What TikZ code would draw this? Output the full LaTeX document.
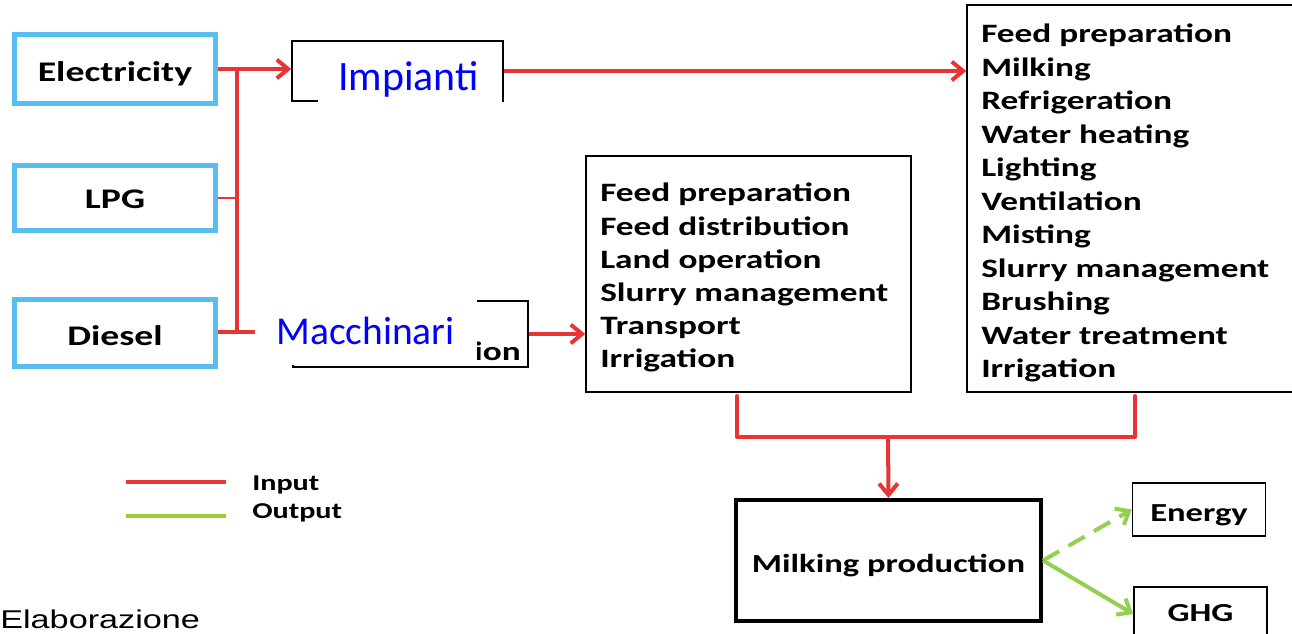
\documentclass[tikz,border=0pt]{standalone}
\usepackage{fontspec}
\setmainfont{Carlito}
\newfontfamily\cw[FakeStretch=1.33]{Carlito}
\newfontfamily\aw[FakeStretch=1.33]{Liberation Sans}
\usetikzlibrary{arrows.meta}
\definecolor{inred}{RGB}{232,52,52}
\definecolor{outgreen}{RGB}{146,208,80}
\definecolor{legreen}{RGB}{156,204,50}
\definecolor{srcblue}{RGB}{88,190,240}
\definecolor{txtblue}{RGB}{0,0,255}
\begin{document}
\begin{tikzpicture}[x=0.75pt,y=-0.75pt,
  src/.style={draw=srcblue, line width=3.75pt, minimum width=150.75pt, inner sep=0pt},
  srcfont/.style={font=\cw\bfseries\fontsize{21.3pt}{25pt}\selectfont},
  thinbox/.style={draw=black, line width=1.1pt, inner sep=0pt},
  itemtext/.style={anchor=base west, inner sep=0pt, font=\cw\bfseries\fontsize{19.9pt}{25pt}\selectfont},
  boxfont/.style={font=\cw\bfseries\fontsize{19.5pt}{24pt}\selectfont},
  bluetext/.style={anchor=base, inner sep=0pt, text=txtblue},
  inline/.style={draw=inred, line width=3pt},
  inarrow/.style={inline, -{Straight Barb[length=8.5pt,width=14pt]}},
  outarrow/.style={draw=outgreen, line width=3pt, -{Straight Barb[length=8.5pt,width=14pt]}}
]
\useasboundingbox (0,0) rectangle (1292,634);

% sources
\node[src, minimum height=51.75pt, label={[name=elecl, srcfont, yshift=-3.75pt]center:Electricity}] (elec) at (115,69) {};
\node[src, minimum height=48.75pt, label={[name=lpgl, srcfont, yshift=-1.1pt]center:LPG}] (lpg) at (115,198) {};
\node[src, minimum height=50.25pt, label={[name=diesl, srcfont, yshift=-2.25pt]center:Diesel}] (dies) at (115,333) {};

% Impianti box
\node[thinbox, minimum width=158.25pt, minimum height=45pt] (imp) at (397.5,71) {};
\fill[white] (318,52) rectangle (501.5,104);
\node[bluetext, font=\fontsize{31.4pt}{36pt}\selectfont] (impt) at (408.5,91) {Impianti};

% Macchinari box
\node[thinbox, minimum width=176.25pt, minimum height=49.5pt] (mach) at (410.5,334) {};
\node[itemtext, anchor=base east] (ion) at (521,361) {ion};
\fill[white] (265,288) rectangle (477,365.5);
\node[bluetext, font=\fontsize{29.6pt}{34pt}\selectfont] (mact) at (365.5,345) {Macchinari};

% middle list box
\node[thinbox, minimum width=243.75pt, minimum height=177pt] (mid) at (748.5,274) {};
\foreach \t [count=\i from 0] in {Feed preparation,Feed distribution,Land operation,Slurry management,Transport,Irrigation}
  \node[itemtext] (m\i) at (600,{202+33.2*\i}) {\t};

% right list box
\node[thinbox, minimum width=249.75pt, minimum height=290.25pt] (rbox) at (1133.5,198.5) {};
\foreach \t [count=\i from 0] in {Feed preparation,Milking,Refrigeration,Water heating,Lighting,Ventilation,Misting,Slurry management,Brushing,Water treatment,Irrigation}
  \node[itemtext] (r\i) at (981,{42.5+33.55*\i}) {\t};

% milking production and outputs
\node[draw=black, line width=3pt, minimum width=228.75pt, minimum height=90.75pt,
  label={[name=milkl, boxfont, yshift=-3.75pt]center:Milking production}] (milk) at (888.5,560.5) {};
\node[thinbox, minimum width=99.75pt, minimum height=39.75pt,
  label={[name=energyl, boxfont, yshift=-4.5pt]center:Energy}] (energy) at (1199,509.5) {};
\node[thinbox, minimum width=99.75pt, minimum height=40.5pt,
  label={[name=ghgl, boxfont, yshift=0.75pt]center:GHG}] (ghg) at (1200.5,614) {};

% input connectors
\coordinate (bustop) at (237,69);
\coordinate (busbot) at (237,332);
\coordinate (dend) at (255,332);
\draw[inarrow] (elec.east) -- (elec.east -| imp.west);
\draw[inline, line width=2.4pt] (bustop) -- (busbot);
\draw[inline, line width=1.2pt] (lpg.east) -- (lpg.east -| bustop);
\draw[inline] (dies.east |- dend) -- (dend);
\draw[inarrow] (imp.east) -- (imp.east -| rbox.west);
\draw[inarrow] (mach.east) -- (mach.east -| mid.west);

\coordinate (j1) at (737,396);
\coordinate (j2) at (1135,396);
\coordinate (jm) at (888,437);
\draw[inline, line cap=round, line join=round] (j1) |- (jm) -| (j2);
\draw[inarrow] (jm) -- (milk.north);

% outputs
\draw[outarrow, dash pattern=on 14pt off 8pt] (milk.east) -- (energy.west);
\draw[outarrow] (milk.east) -- (ghg.west);

% legend
\coordinate (li1) at (126,482);
\coordinate (li2) at (226,482);
\coordinate (lo1) at (126,516);
\coordinate (lo2) at (226,516);
\draw[inline] (li1) -- (li2);
\draw[draw=legreen, line width=3pt] (lo1) -- (lo2);
\node[anchor=base west, inner sep=0pt, font=\cw\bfseries\fontsize{17pt}{20pt}\selectfont] (lin) at (252,490) {Input};
\node[anchor=base west, inner sep=0pt, font=\cw\bfseries\fontsize{17pt}{20pt}\selectfont] (lout) at (252,518) {Output};

\node[anchor=base west, inner sep=0pt, font=\aw\fontsize{19.3pt}{23pt}\selectfont] (elab) at (0,628) {Elaborazione};
\end{tikzpicture}
\end{document}
